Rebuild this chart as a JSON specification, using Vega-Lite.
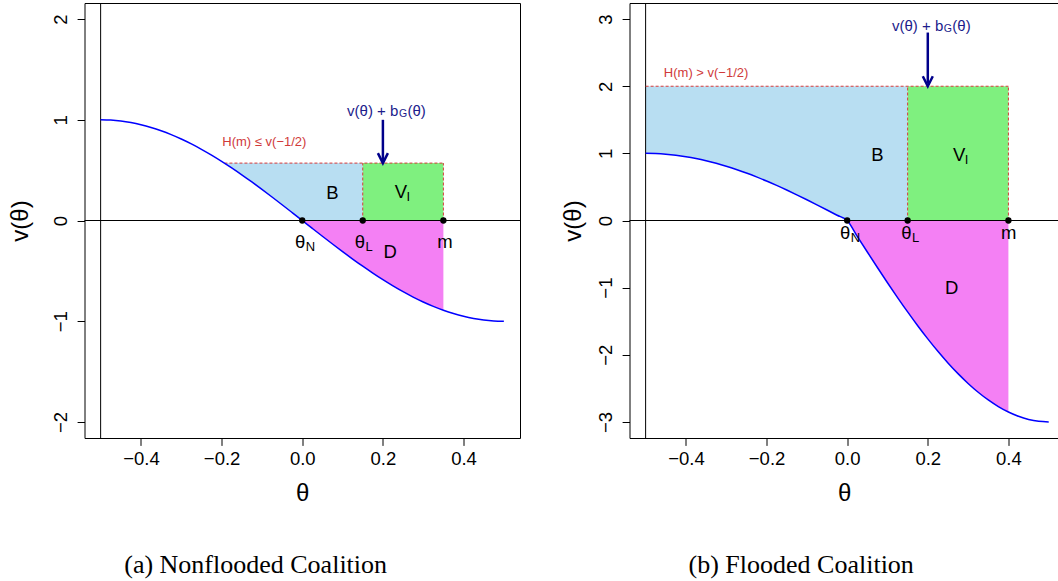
{
  "$schema": "https://vega.github.io/schema/vega-lite/v6.json",
  "background": "white",
  "padding": {"left": 7.5, "top": 2, "right": 0, "bottom": 0},
  "spacing": 39,
  "config": {
    "view": {"stroke": "black", "strokeWidth": 1},
    "axis": {"grid": false, "domain": false, "tickColor": "black", "tickSize": 7.4, "labelFont": "Liberation Sans", "labelFontSize": 18.5, "labelColor": "black", "titleFont": "Liberation Sans", "titleFontSize": 24, "titleFontWeight": "normal", "titleColor": "black", "labelFlush": false, "labelOverlap": false},
    "title": {"font": "Liberation Serif", "fontSize": 26, "fontWeight": "normal", "color": "black", "orient": "bottom", "anchor": "middle", "frame": "bounds", "offset": 46, "dx": -9},
    "text": {"font": "Liberation Sans"}
  },
  "datasets": {
    "curveA": [
      {"theta": -0.5, "v": 1}, {"theta": -0.475, "v": 0.99692}, {"theta": -0.45, "v": 0.98769}, {"theta": -0.425, "v": 0.97237}, {"theta": -0.4, "v": 0.95106}, {"theta": -0.375, "v": 0.92388}, {"theta": -0.35, "v": 0.89101}, {"theta": -0.325, "v": 0.85264}, {"theta": -0.3, "v": 0.80902}, {"theta": -0.275, "v": 0.76041}, {"theta": -0.25, "v": 0.70711}, {"theta": -0.225, "v": 0.64945}, {"theta": -0.2, "v": 0.58779}, {"theta": -0.175, "v": 0.5225}, {"theta": -0.15, "v": 0.45399}, {"theta": -0.125, "v": 0.38268}, {"theta": -0.1, "v": 0.30902}, {"theta": -0.075, "v": 0.23345}, {"theta": -0.05, "v": 0.15643}, {"theta": -0.025, "v": 0.07846}, {"theta": 0, "v": 0},
      {"theta": 0.025, "v": -0.07846}, {"theta": 0.05, "v": -0.15643}, {"theta": 0.075, "v": -0.23345}, {"theta": 0.1, "v": -0.30902}, {"theta": 0.125, "v": -0.38268}, {"theta": 0.15, "v": -0.45399}, {"theta": 0.175, "v": -0.5225}, {"theta": 0.2, "v": -0.58779}, {"theta": 0.225, "v": -0.64945}, {"theta": 0.25, "v": -0.70711}, {"theta": 0.275, "v": -0.76041}, {"theta": 0.3, "v": -0.80902}, {"theta": 0.325, "v": -0.85264}, {"theta": 0.35, "v": -0.89101}, {"theta": 0.375, "v": -0.92388}, {"theta": 0.4, "v": -0.95106}, {"theta": 0.425, "v": -0.97237}, {"theta": 0.45, "v": -0.98769}, {"theta": 0.475, "v": -0.99692}, {"theta": 0.5, "v": -1}
    ],
    "curveB": [
      {"theta": -0.5, "v": 1}, {"theta": -0.475, "v": 0.99692}, {"theta": -0.45, "v": 0.98769}, {"theta": -0.425, "v": 0.97237}, {"theta": -0.4, "v": 0.95106}, {"theta": -0.375, "v": 0.92388}, {"theta": -0.35, "v": 0.89101}, {"theta": -0.325, "v": 0.85264}, {"theta": -0.3, "v": 0.80902}, {"theta": -0.275, "v": 0.76041}, {"theta": -0.25, "v": 0.70711}, {"theta": -0.225, "v": 0.64945}, {"theta": -0.2, "v": 0.58779}, {"theta": -0.175, "v": 0.5225}, {"theta": -0.15, "v": 0.45399}, {"theta": -0.125, "v": 0.38268}, {"theta": -0.1, "v": 0.30902}, {"theta": -0.075, "v": 0.23345}, {"theta": -0.05, "v": 0.15643}, {"theta": -0.025, "v": 0.07846}, {"theta": 0, "v": 0},
      {"theta": 0.025, "v": -0.23538}, {"theta": 0.05, "v": -0.46929}, {"theta": 0.075, "v": -0.70035}, {"theta": 0.1, "v": -0.92706}, {"theta": 0.125, "v": -1.14804}, {"theta": 0.15, "v": -1.36197}, {"theta": 0.175, "v": -1.5675}, {"theta": 0.2, "v": -1.76337}, {"theta": 0.225, "v": -1.94835}, {"theta": 0.25, "v": -2.12133}, {"theta": 0.275, "v": -2.28123}, {"theta": 0.3, "v": -2.42706}, {"theta": 0.325, "v": -2.55792}, {"theta": 0.35, "v": -2.67303}, {"theta": 0.375, "v": -2.77164}, {"theta": 0.4, "v": -2.85318}, {"theta": 0.425, "v": -2.91711}, {"theta": 0.45, "v": -2.96307}, {"theta": 0.475, "v": -2.99076}, {"theta": 0.5, "v": -3}
    ],
    "shadeA": [
      {"region": "B", "theta": -0.193, "lo": 0.57, "hi": 0.57}, {"region": "B", "theta": -0.175, "lo": 0.5225, "hi": 0.57}, {"region": "B", "theta": -0.15, "lo": 0.45399, "hi": 0.57}, {"region": "B", "theta": -0.125, "lo": 0.38268, "hi": 0.57}, {"region": "B", "theta": -0.1, "lo": 0.30902, "hi": 0.57}, {"region": "B", "theta": -0.075, "lo": 0.23345, "hi": 0.57}, {"region": "B", "theta": -0.05, "lo": 0.15643, "hi": 0.57}, {"region": "B", "theta": -0.025, "lo": 0.07846, "hi": 0.57}, {"region": "B", "theta": 0, "lo": 0, "hi": 0.57}, {"region": "B", "theta": 0.15, "lo": 0, "hi": 0.57},
      {"region": "V", "theta": 0.15, "lo": 0, "hi": 0.57}, {"region": "V", "theta": 0.35, "lo": 0, "hi": 0.57},
      {"region": "D", "theta": 0, "lo": 0, "hi": 0}, {"region": "D", "theta": 0.025, "lo": -0.07846, "hi": 0}, {"region": "D", "theta": 0.05, "lo": -0.15643, "hi": 0}, {"region": "D", "theta": 0.075, "lo": -0.23345, "hi": 0}, {"region": "D", "theta": 0.1, "lo": -0.30902, "hi": 0}, {"region": "D", "theta": 0.125, "lo": -0.38268, "hi": 0}, {"region": "D", "theta": 0.15, "lo": -0.45399, "hi": 0}, {"region": "D", "theta": 0.175, "lo": -0.5225, "hi": 0}, {"region": "D", "theta": 0.2, "lo": -0.58779, "hi": 0}, {"region": "D", "theta": 0.225, "lo": -0.64945, "hi": 0}, {"region": "D", "theta": 0.25, "lo": -0.70711, "hi": 0}, {"region": "D", "theta": 0.275, "lo": -0.76041, "hi": 0}, {"region": "D", "theta": 0.3, "lo": -0.80902, "hi": 0}, {"region": "D", "theta": 0.325, "lo": -0.85264, "hi": 0}, {"region": "D", "theta": 0.35, "lo": -0.89101, "hi": 0}
    ],
    "shadeB": [
      {"region": "B", "theta": -0.5, "lo": 1, "hi": 2}, {"region": "B", "theta": -0.475, "lo": 0.99692, "hi": 2}, {"region": "B", "theta": -0.45, "lo": 0.98769, "hi": 2}, {"region": "B", "theta": -0.425, "lo": 0.97237, "hi": 2}, {"region": "B", "theta": -0.4, "lo": 0.95106, "hi": 2}, {"region": "B", "theta": -0.375, "lo": 0.92388, "hi": 2}, {"region": "B", "theta": -0.35, "lo": 0.89101, "hi": 2}, {"region": "B", "theta": -0.325, "lo": 0.85264, "hi": 2}, {"region": "B", "theta": -0.3, "lo": 0.80902, "hi": 2}, {"region": "B", "theta": -0.275, "lo": 0.76041, "hi": 2}, {"region": "B", "theta": -0.25, "lo": 0.70711, "hi": 2}, {"region": "B", "theta": -0.225, "lo": 0.64945, "hi": 2}, {"region": "B", "theta": -0.2, "lo": 0.58779, "hi": 2}, {"region": "B", "theta": -0.175, "lo": 0.5225, "hi": 2}, {"region": "B", "theta": -0.15, "lo": 0.45399, "hi": 2}, {"region": "B", "theta": -0.125, "lo": 0.38268, "hi": 2}, {"region": "B", "theta": -0.1, "lo": 0.30902, "hi": 2}, {"region": "B", "theta": -0.075, "lo": 0.23345, "hi": 2}, {"region": "B", "theta": -0.05, "lo": 0.15643, "hi": 2}, {"region": "B", "theta": -0.025, "lo": 0.07846, "hi": 2}, {"region": "B", "theta": 0, "lo": 0, "hi": 2}, {"region": "B", "theta": 0.15, "lo": 0, "hi": 2},
      {"region": "V", "theta": 0.15, "lo": 0, "hi": 2}, {"region": "V", "theta": 0.4, "lo": 0, "hi": 2},
      {"region": "D", "theta": 0, "lo": 0, "hi": 0}, {"region": "D", "theta": 0.025, "lo": -0.23538, "hi": 0}, {"region": "D", "theta": 0.05, "lo": -0.46929, "hi": 0}, {"region": "D", "theta": 0.075, "lo": -0.70035, "hi": 0}, {"region": "D", "theta": 0.1, "lo": -0.92706, "hi": 0}, {"region": "D", "theta": 0.125, "lo": -1.14804, "hi": 0}, {"region": "D", "theta": 0.15, "lo": -1.36197, "hi": 0}, {"region": "D", "theta": 0.175, "lo": -1.5675, "hi": 0}, {"region": "D", "theta": 0.2, "lo": -1.76337, "hi": 0}, {"region": "D", "theta": 0.225, "lo": -1.94835, "hi": 0}, {"region": "D", "theta": 0.25, "lo": -2.12133, "hi": 0}, {"region": "D", "theta": 0.275, "lo": -2.28123, "hi": 0}, {"region": "D", "theta": 0.3, "lo": -2.42706, "hi": 0}, {"region": "D", "theta": 0.325, "lo": -2.55792, "hi": 0}, {"region": "D", "theta": 0.35, "lo": -2.67303, "hi": 0}, {"region": "D", "theta": 0.375, "lo": -2.77164, "hi": 0}, {"region": "D", "theta": 0.4, "lo": -2.85318, "hi": 0}
    ],
    "dashA": [
      {"x": -0.193, "y": 0.57, "x2": 0.35, "y2": 0.57}, {"x": 0.15, "y": 0, "x2": 0.15, "y2": 0.57}, {"x": 0.35, "y": 0, "x2": 0.35, "y2": 0.57}
    ],
    "dashB": [
      {"x": -0.5, "y": 2, "x2": 0.4, "y2": 2}, {"x": 0.15, "y": 0, "x2": 0.15, "y2": 2}, {"x": 0.4, "y": 0, "x2": 0.4, "y2": 2}
    ],
    "pointsA": [{"theta": 0, "v": 0}, {"theta": 0.15, "v": 0}, {"theta": 0.35, "v": 0}],
    "pointsB": [{"theta": 0, "v": 0}, {"theta": 0.15, "v": 0}, {"theta": 0.4, "v": 0}],
    "labelsA": [
      {"x": -0.005, "y": -0.21, "main": "θ", "sub": "N"},
      {"x": 0.143, "y": -0.21, "main": "θ", "sub": "L"},
      {"x": 0.354, "y": -0.21, "main": "m", "sub": ""},
      {"x": 0.075, "y": 0.27, "main": "B", "sub": ""},
      {"x": 0.245, "y": 0.28, "main": "V", "sub": "I"},
      {"x": 0.218, "y": -0.31, "main": "D", "sub": ""}
    ],
    "labelsB": [
      {"x": -0.005, "y": -0.18, "main": "θ", "sub": "N"},
      {"x": 0.147, "y": -0.18, "main": "θ", "sub": "L"},
      {"x": 0.401, "y": -0.18, "main": "m", "sub": ""},
      {"x": 0.075, "y": 0.98, "main": "B", "sub": ""},
      {"x": 0.278, "y": 0.98, "main": "V", "sub": "I"},
      {"x": 0.259, "y": -1.0, "main": "D", "sub": ""}
    ],
    "redA": [{"x": -0.094, "y": 0.775, "t": "H(m) ≤ v(−1/2)"}],
    "redB": [{"x": -0.35, "y": 2.19, "t": "H(m) > v(−1/2)"}],
    "navyA": [{"x": 0.2, "y": 1.09, "p1": "v(θ) + b", "s": "G", "p2": "(θ)"}],
    "navyB": [{"x": 0.2, "y": 2.89, "p1": "v(θ) + b", "s": "G", "p2": "(θ)"}],
    "arrowA": [{"x": 0.2, "y": 1.0, "y2": 0.6, "tip": 0.57}],
    "arrowB": [{"x": 0.2, "y": 2.8, "y2": 2.04, "tip": 2.0}]
  },
  "hconcat": [
    {
      "width": 435.5,
      "height": 435,
      "title": {"text": "(a) Nonflooded Coalition"},
      "layer": [
        {
          "data": {"name": "shadeA"},
          "mark": {"type": "area", "interpolate": "monotone"},
          "encoding": {
            "x": {"field": "theta", "type": "quantitative", "title": "θ", "scale": {"domain": [-0.54, 0.54], "nice": false, "zero": false}, "axis": {"values": [-0.4, -0.2, 0, 0.2, 0.4], "format": ".1f", "labelPadding": 4, "titlePadding": 14}},
            "y": {"field": "lo", "type": "quantitative", "title": "v(θ)", "scale": {"domain": [-2.16, 2.16], "nice": false, "zero": false}, "axis": {"values": [-2, -1, 0, 1, 2], "format": "d", "labelAngle": -90, "labelAlign": "center", "labelBaseline": "alphabetic", "labelPadding": 11, "titlePadding": 18.3}},
            "y2": {"field": "hi"},
            "color": {"field": "region", "type": "nominal", "scale": {"domain": ["B", "V", "D"], "range": ["#b8def2", "#7ff07f", "#f480f4"]}, "legend": null}
          }
        },
        {"data": {"values": [{"y": 0}]}, "mark": {"type": "rule", "color": "black", "strokeWidth": 1}, "encoding": {"y": {"field": "y", "type": "quantitative"}}},
        {"data": {"values": [{"x": -0.5}]}, "mark": {"type": "rule", "color": "black", "strokeWidth": 1}, "encoding": {"x": {"field": "x", "type": "quantitative"}}},
        {"data": {"name": "dashA"}, "mark": {"type": "rule", "color": "#d83a3a", "strokeWidth": 1, "strokeDash": [3, 2]}, "encoding": {"x": {"field": "x", "type": "quantitative"}, "y": {"field": "y", "type": "quantitative"}, "x2": {"field": "x2"}, "y2": {"field": "y2"}}},
        {"data": {"name": "curveA"}, "mark": {"type": "line", "color": "#0000ff", "strokeWidth": 1.5, "interpolate": "monotone"}, "encoding": {"x": {"field": "theta", "type": "quantitative"}, "y": {"field": "v", "type": "quantitative"}}},
        {"data": {"name": "pointsA"}, "mark": {"type": "point", "filled": true, "color": "black", "size": 40, "opacity": 1}, "encoding": {"x": {"field": "theta", "type": "quantitative"}, "y": {"field": "v", "type": "quantitative"}}},
        {"data": {"name": "labelsA"}, "mark": {"type": "text", "fontSize": 18.5, "color": "black", "align": "center", "baseline": "middle"}, "encoding": {"x": {"field": "x", "type": "quantitative"}, "y": {"field": "y", "type": "quantitative"}, "text": {"field": "main"}}},
        {"data": {"name": "labelsA"}, "mark": {"type": "text", "fontSize": 13, "color": "black", "align": "left", "baseline": "middle", "dx": 5.5, "dy": 5}, "encoding": {"x": {"field": "x", "type": "quantitative"}, "y": {"field": "y", "type": "quantitative"}, "text": {"field": "sub"}}},
        {"data": {"name": "redA"}, "mark": {"type": "text", "fontSize": 13, "color": "#d03a3a", "align": "center", "baseline": "middle"}, "encoding": {"x": {"field": "x", "type": "quantitative"}, "y": {"field": "y", "type": "quantitative"}, "text": {"field": "t"}}},
        {"data": {"name": "navyA"}, "mark": {"type": "text", "fontSize": 15, "color": "#1c1c8c", "align": "right", "baseline": "middle", "dx": 15.5}, "encoding": {"x": {"field": "x", "type": "quantitative"}, "y": {"field": "y", "type": "quantitative"}, "text": {"field": "p1"}}},
        {"data": {"name": "navyA"}, "mark": {"type": "text", "fontSize": 10.5, "color": "#1c1c8c", "align": "left", "baseline": "middle", "dx": 16, "dy": 3}, "encoding": {"x": {"field": "x", "type": "quantitative"}, "y": {"field": "y", "type": "quantitative"}, "text": {"field": "s"}}},
        {"data": {"name": "navyA"}, "mark": {"type": "text", "fontSize": 15, "color": "#1c1c8c", "align": "left", "baseline": "middle", "dx": 24.5}, "encoding": {"x": {"field": "x", "type": "quantitative"}, "y": {"field": "y", "type": "quantitative"}, "text": {"field": "p2"}}},
        {"data": {"name": "arrowA"}, "mark": {"type": "rule", "color": "#00008b", "strokeWidth": 2.5}, "encoding": {"x": {"field": "x", "type": "quantitative"}, "y": {"field": "y", "type": "quantitative"}, "y2": {"field": "y2"}}},
        {"data": {"name": "arrowA"}, "mark": {"type": "point", "shape": "M-0.5,-1L0,0L0.5,-1", "size": 400, "filled": false, "color": "#00008b", "strokeWidth": 2.5, "opacity": 1}, "encoding": {"x": {"field": "x", "type": "quantitative"}, "y": {"field": "tip", "type": "quantitative"}}}
      ]
    },
    {
      "width": 429.3,
      "height": 435,
      "title": {"text": "(b) Flooded Coalition"},
      "layer": [
        {
          "data": {"name": "shadeB"},
          "mark": {"type": "area", "interpolate": "monotone"},
          "encoding": {
            "x": {"field": "theta", "type": "quantitative", "title": "θ", "scale": {"domain": [-0.54, 0.525], "nice": false, "zero": false}, "axis": {"values": [-0.4, -0.2, 0, 0.2, 0.4], "format": ".1f", "labelPadding": 4, "titlePadding": 14}},
            "y": {"field": "lo", "type": "quantitative", "title": "v(θ)", "scale": {"domain": [-3.24, 3.24], "nice": false, "zero": false}, "axis": {"values": [-3, -2, -1, 0, 1, 2, 3], "format": "d", "labelAngle": -90, "labelAlign": "center", "labelBaseline": "alphabetic", "labelPadding": 11, "titlePadding": 11}},
            "y2": {"field": "hi"},
            "color": {"field": "region", "type": "nominal", "scale": {"domain": ["B", "V", "D"], "range": ["#b8def2", "#7ff07f", "#f480f4"]}, "legend": null}
          }
        },
        {"data": {"values": [{"y": 0}]}, "mark": {"type": "rule", "color": "black", "strokeWidth": 1}, "encoding": {"y": {"field": "y", "type": "quantitative"}}},
        {"data": {"values": [{"x": -0.5}]}, "mark": {"type": "rule", "color": "black", "strokeWidth": 1}, "encoding": {"x": {"field": "x", "type": "quantitative"}}},
        {"data": {"name": "dashB"}, "mark": {"type": "rule", "color": "#d83a3a", "strokeWidth": 1, "strokeDash": [3, 2]}, "encoding": {"x": {"field": "x", "type": "quantitative"}, "y": {"field": "y", "type": "quantitative"}, "x2": {"field": "x2"}, "y2": {"field": "y2"}}},
        {"data": {"name": "curveB"}, "mark": {"type": "line", "color": "#0000ff", "strokeWidth": 1.5, "interpolate": "monotone"}, "encoding": {"x": {"field": "theta", "type": "quantitative"}, "y": {"field": "v", "type": "quantitative"}}},
        {"data": {"name": "pointsB"}, "mark": {"type": "point", "filled": true, "color": "black", "size": 40, "opacity": 1}, "encoding": {"x": {"field": "theta", "type": "quantitative"}, "y": {"field": "v", "type": "quantitative"}}},
        {"data": {"name": "labelsB"}, "mark": {"type": "text", "fontSize": 18.5, "color": "black", "align": "center", "baseline": "middle"}, "encoding": {"x": {"field": "x", "type": "quantitative"}, "y": {"field": "y", "type": "quantitative"}, "text": {"field": "main"}}},
        {"data": {"name": "labelsB"}, "mark": {"type": "text", "fontSize": 13, "color": "black", "align": "left", "baseline": "middle", "dx": 5.5, "dy": 5}, "encoding": {"x": {"field": "x", "type": "quantitative"}, "y": {"field": "y", "type": "quantitative"}, "text": {"field": "sub"}}},
        {"data": {"name": "redB"}, "mark": {"type": "text", "fontSize": 13, "color": "#d03a3a", "align": "center", "baseline": "middle"}, "encoding": {"x": {"field": "x", "type": "quantitative"}, "y": {"field": "y", "type": "quantitative"}, "text": {"field": "t"}}},
        {"data": {"name": "navyB"}, "mark": {"type": "text", "fontSize": 15, "color": "#1c1c8c", "align": "right", "baseline": "middle", "dx": 15.5}, "encoding": {"x": {"field": "x", "type": "quantitative"}, "y": {"field": "y", "type": "quantitative"}, "text": {"field": "p1"}}},
        {"data": {"name": "navyB"}, "mark": {"type": "text", "fontSize": 10.5, "color": "#1c1c8c", "align": "left", "baseline": "middle", "dx": 16, "dy": 3}, "encoding": {"x": {"field": "x", "type": "quantitative"}, "y": {"field": "y", "type": "quantitative"}, "text": {"field": "s"}}},
        {"data": {"name": "navyB"}, "mark": {"type": "text", "fontSize": 15, "color": "#1c1c8c", "align": "left", "baseline": "middle", "dx": 24.5}, "encoding": {"x": {"field": "x", "type": "quantitative"}, "y": {"field": "y", "type": "quantitative"}, "text": {"field": "p2"}}},
        {"data": {"name": "arrowB"}, "mark": {"type": "rule", "color": "#00008b", "strokeWidth": 2.5}, "encoding": {"x": {"field": "x", "type": "quantitative"}, "y": {"field": "y", "type": "quantitative"}, "y2": {"field": "y2"}}},
        {"data": {"name": "arrowB"}, "mark": {"type": "point", "shape": "M-0.5,-1L0,0L0.5,-1", "size": 400, "filled": false, "color": "#00008b", "strokeWidth": 2.5, "opacity": 1}, "encoding": {"x": {"field": "x", "type": "quantitative"}, "y": {"field": "tip", "type": "quantitative"}}}
      ]
    }
  ]
}
